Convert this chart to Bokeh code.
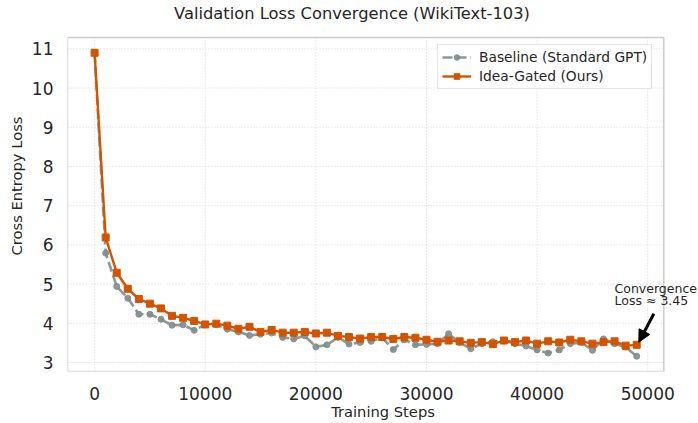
from bokeh.plotting import figure
from bokeh.models import Label, Arrow, NormalHead, Legend, LegendItem, FixedTicker, Range1d, BoxAnnotation
from bokeh.embed import file_html
from bokeh.resources import INLINE

steps = [0, 1000, 2000, 3000, 4000, 5000, 6000, 7000, 8000, 9000,
         10000, 11000, 12000, 13000, 14000, 15000, 16000, 17000, 18000, 19000,
         20000, 21000, 22000, 23000, 24000, 25000, 26000, 27000, 28000, 29000,
         30000, 31000, 32000, 33000, 34000, 35000, 36000, 37000, 38000, 39000,
         40000, 41000, 42000, 43000, 44000, 45000, 46000, 47000, 48000, 49000]

baseline = [10.90, 5.79, 4.94, 4.64, 4.23, 4.23, 4.10, 3.95, 3.96, 3.82,
            3.97, 3.97, 3.85, 3.78, 3.69, 3.72, 3.75, 3.64, 3.60, 3.68,
            3.40, 3.45, 3.64, 3.47, 3.51, 3.54, 3.63, 3.33, 3.58, 3.45,
            3.46, 3.48, 3.73, 3.51, 3.35, 3.48, 3.53, 3.55, 3.48, 3.42,
            3.32, 3.24, 3.32, 3.48, 3.51, 3.31, 3.60, 3.48, 3.39, 3.16]

idea_gated = [10.90, 6.19, 5.29, 4.88, 4.62, 4.50, 4.38, 4.19, 4.14, 4.06,
              3.97, 3.99, 3.94, 3.86, 3.91, 3.78, 3.83, 3.76, 3.76, 3.78,
              3.74, 3.76, 3.68, 3.65, 3.61, 3.65, 3.65, 3.60, 3.65, 3.63,
              3.58, 3.53, 3.56, 3.54, 3.50, 3.52, 3.47, 3.56, 3.52, 3.56,
              3.48, 3.54, 3.51, 3.58, 3.54, 3.48, 3.52, 3.54, 3.43, 3.45]

x_ticks = [0, 10000, 20000, 30000, 40000, 50000]
y_ticks = [3, 4, 5, 6, 7, 8, 9, 10, 11]

series_labels = ["Baseline (Standard GPT)", "Idea-Gated (Ours)"]
title_text = "Validation Loss Convergence (WikiText-103)"
x_label = "Training Steps"
y_label = "Cross Entropy Loss"
annot_lines = ["Convergence", "Loss ≈ 3.45"]

GRAY = "#7f8c8d"
ORANGE = "#d35400"
TXT = "#262626"
GRID = "#d5d5d5"
FONT = "DejaVu Sans"

# visible axes box (data coords). The plotting frame is larger (up to the
# top and right edges of the figure) so that the title and the annotation
# text can sit outside the box as in the reference.
X0, X1 = -2450, 51450
Y0, Y1 = 2.77, 11.29
XR_END = 54587
YR_END = 12.234

p = figure(width=698, height=423, output_backend="svg", toolbar_location=None,
           x_range=Range1d(X0, XR_END), y_range=Range1d(Y0, YR_END),
           min_border_left=67, min_border_right=0, min_border_top=0, min_border_bottom=52)

p.outline_line_color = None
p.background_fill_color = "white"
p.border_fill_color = "white"

for ax in (p.xaxis[0], p.yaxis[0]):
    ax.axis_line_color = None
    ax.major_tick_line_color = None
    ax.minor_tick_line_color = None
    ax.major_tick_out = 0
    ax.major_tick_in = 0
    ax.minor_tick_out = 0
    ax.major_label_text_font = FONT
    ax.major_label_text_font_size = "17px"
    ax.major_label_text_color = TXT
    ax.axis_label_text_font = FONT
    ax.axis_label_text_font_size = "14.7px"
    ax.axis_label_text_font_style = "normal"
    ax.axis_label_text_color = TXT

p.xaxis[0].ticker = FixedTicker(ticks=x_ticks)
p.yaxis[0].ticker = FixedTicker(ticks=y_ticks)
p.xaxis[0].axis_label = x_label
p.yaxis[0].axis_label = y_label
p.xaxis[0].major_label_standoff = 15
p.xaxis[0].axis_label_standoff = 0
p.yaxis[0].major_label_standoff = 14
p.yaxis[0].axis_label_standoff = 4

p.xgrid[0].grid_line_color = None
p.ygrid[0].grid_line_color = None

# grid lines limited to the visible axes box
p.segment(x0=[X0] * len(y_ticks), x1=[X1] * len(y_ticks), y0=y_ticks, y1=y_ticks,
          line_color=GRID, line_dash="1 2", line_width=1, level="underlay")
p.segment(x0=x_ticks, x1=x_ticks, y0=[Y0] * len(x_ticks), y1=[Y1] * len(x_ticks),
          line_color=GRID, line_dash="1 2", line_width=1, level="underlay")

box = BoxAnnotation(left=X0, right=X1, bottom=Y0, top=Y1, fill_alpha=0, fill_color=None,
                    line_color="#cccccc", line_alpha=1.0, line_dash="solid",
                    line_width=1.5, level="underlay")
p.add_layout(box)

# title
p.add_layout(Label(x=23266, y=11.902, text=title_text, text_font=FONT,
                   text_font_size="16.3px", text_color=TXT,
                   text_align="center", text_baseline="middle"))

bl = p.line(steps, baseline, line_color=GRAY, line_width=2.6, line_dash="10 4", line_alpha=0.9)
bs = p.scatter(steps, baseline, marker="circle", size=6, fill_color=GRAY, line_color=GRAY, alpha=0.9)
ol = p.line(steps, idea_gated, line_color=ORANGE, line_width=2.4)
os_ = p.scatter(steps, idea_gated, marker="square", size=7, fill_color=ORANGE, line_color=ORANGE)

legend = Legend(items=[LegendItem(label=series_labels[0], renderers=[bl, bs]),
                       LegendItem(label=series_labels[1], renderers=[ol, os_])],
                location=(370, 282))
legend.label_text_font = FONT
legend.label_text_font_size = "13.8px"
legend.label_text_color = TXT
legend.border_line_color = "#cccccc"
legend.border_line_width = 1
legend.background_fill_alpha = 0.9
legend.glyph_width = 29
legend.glyph_height = 14
legend.label_standoff = 8
legend.spacing = 3
legend.padding = 4
legend.margin = 0
p.add_layout(legend)

for txt, yy in zip(annot_lines, [4.88, 4.57]):
    p.add_layout(Label(x=47000, y=yy, text=txt, text_font=FONT, text_font_size="12.5px",
                       text_color=TXT, text_align="left", text_baseline="alphabetic"))

arr = Arrow(end=NormalHead(size=12, fill_color="black", line_color="black"),
            x_start=50547, y_start=4.242, x_end=49191, y_end=3.517,
            line_color="black", line_width=3)
p.add_layout(arr)

open("out.html", "w").write(file_html(p, INLINE))
